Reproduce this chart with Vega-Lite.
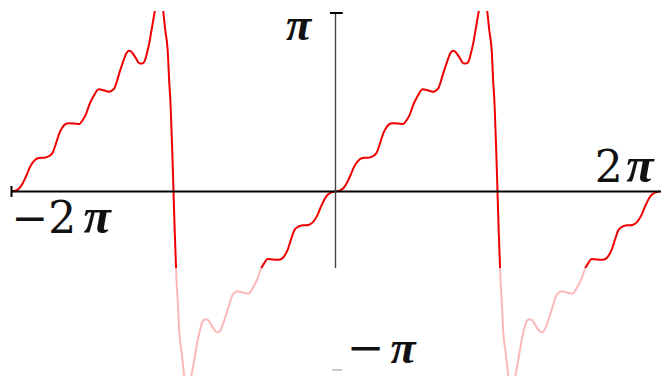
{
  "$schema": "https://vega.github.io/schema/vega-lite/v6.json",
  "width": 661,
  "height": 365,
  "autosize": {"type": "none"},
  "padding": {"top": 11, "left": 0, "right": 0, "bottom": 0},
  "background": "white",
  "config": {"view": {"stroke": null}},
  "datasets": {
    "curve": [
      {"x": -2.000, "y": 0}, {"x": -1.972, "y": 0.006}, {"x": -1.952, "y": 0.018}, {"x": -1.935, "y": 0.039},
      {"x": -1.921, "y": 0.064}, {"x": -1.904, "y": 0.098}, {"x": -1.890, "y": 0.130}, {"x": -1.873, "y": 0.157},
      {"x": -1.859, "y": 0.173}, {"x": -1.838, "y": 0.186}, {"x": -1.818, "y": 0.189}, {"x": -1.797, "y": 0.189},
      {"x": -1.781, "y": 0.193}, {"x": -1.767, "y": 0.199}, {"x": -1.746, "y": 0.217}, {"x": -1.725, "y": 0.270},
      {"x": -1.705, "y": 0.326}, {"x": -1.688, "y": 0.356}, {"x": -1.674, "y": 0.373}, {"x": -1.657, "y": 0.381},
      {"x": -1.643, "y": 0.382}, {"x": -1.614, "y": 0.381}, {"x": -1.581, "y": 0.378}, {"x": -1.560, "y": 0.401},
      {"x": -1.540, "y": 0.434}, {"x": -1.520, "y": 0.485}, {"x": -1.503, "y": 0.518}, {"x": -1.489, "y": 0.541},
      {"x": -1.475, "y": 0.563}, {"x": -1.462, "y": 0.573}, {"x": -1.437, "y": 0.569}, {"x": -1.417, "y": 0.563},
      {"x": -1.396, "y": 0.559}, {"x": -1.380, "y": 0.566}, {"x": -1.365, "y": 0.578}, {"x": -1.349, "y": 0.619},
      {"x": -1.335, "y": 0.662}, {"x": -1.318, "y": 0.709}, {"x": -1.304, "y": 0.746}, {"x": -1.290, "y": 0.776},
      {"x": -1.276, "y": 0.789}, {"x": -1.262, "y": 0.784}, {"x": -1.252, "y": 0.774}, {"x": -1.231, "y": 0.745},
      {"x": -1.211, "y": 0.718}, {"x": -1.194, "y": 0.717}, {"x": -1.180, "y": 0.727}, {"x": -1.170, "y": 0.754},
      {"x": -1.159, "y": 0.793}, {"x": -1.148, "y": 0.838}, {"x": -1.139, "y": 0.886}, {"x": -1.128, "y": 0.944},
      {"x": -1.118, "y": 0.998}, {"x": -1.108, "y": 1.045}, {"x": -1.096, "y": 1.140}, {"x": -1.086, "y": 1.179},
      {"x": -1.077, "y": 1.140}, {"x": -1.063, "y": 1.007}, {"x": -1.051, "y": 0.905}, {"x": -1.036, "y": 0.793},
      {"x": -1.026, "y": 0.608}, {"x": -1.018, "y": 0.485}, {"x": -1.014, "y": 0.384}, {"x": -1.008, "y": 0.233},
      {"x": -1.003, "y": 0.092}, {"x": -1.000, "y": 0},
      {"x": -0.997, "y": -0.092}, {"x": -0.992, "y": -0.233}, {"x": -0.986, "y": -0.384}, {"x": -0.982, "y": -0.485},
      {"x": -0.974, "y": -0.608}, {"x": -0.964, "y": -0.793}, {"x": -0.949, "y": -0.905}, {"x": -0.937, "y": -1.007},
      {"x": -0.923, "y": -1.140}, {"x": -0.914, "y": -1.179}, {"x": -0.904, "y": -1.140}, {"x": -0.892, "y": -1.045},
      {"x": -0.882, "y": -0.998}, {"x": -0.872, "y": -0.944}, {"x": -0.861, "y": -0.886}, {"x": -0.852, "y": -0.838},
      {"x": -0.841, "y": -0.793}, {"x": -0.830, "y": -0.754}, {"x": -0.820, "y": -0.727}, {"x": -0.806, "y": -0.717},
      {"x": -0.789, "y": -0.718}, {"x": -0.769, "y": -0.745}, {"x": -0.748, "y": -0.774}, {"x": -0.738, "y": -0.784},
      {"x": -0.724, "y": -0.789}, {"x": -0.710, "y": -0.776}, {"x": -0.696, "y": -0.746}, {"x": -0.682, "y": -0.709},
      {"x": -0.665, "y": -0.662}, {"x": -0.651, "y": -0.619}, {"x": -0.635, "y": -0.578}, {"x": -0.620, "y": -0.566},
      {"x": -0.604, "y": -0.559}, {"x": -0.583, "y": -0.563}, {"x": -0.563, "y": -0.569}, {"x": -0.538, "y": -0.573},
      {"x": -0.525, "y": -0.563}, {"x": -0.511, "y": -0.541}, {"x": -0.497, "y": -0.518}, {"x": -0.480, "y": -0.485},
      {"x": -0.460, "y": -0.434}, {"x": -0.440, "y": -0.401}, {"x": -0.419, "y": -0.378}, {"x": -0.386, "y": -0.381},
      {"x": -0.357, "y": -0.382}, {"x": -0.343, "y": -0.381}, {"x": -0.326, "y": -0.373}, {"x": -0.312, "y": -0.356},
      {"x": -0.295, "y": -0.326}, {"x": -0.275, "y": -0.270}, {"x": -0.254, "y": -0.217}, {"x": -0.233, "y": -0.199},
      {"x": -0.219, "y": -0.193}, {"x": -0.203, "y": -0.189}, {"x": -0.182, "y": -0.189}, {"x": -0.162, "y": -0.186},
      {"x": -0.141, "y": -0.173}, {"x": -0.127, "y": -0.157}, {"x": -0.110, "y": -0.130}, {"x": -0.096, "y": -0.098},
      {"x": -0.079, "y": -0.064}, {"x": -0.065, "y": -0.039}, {"x": -0.048, "y": -0.018}, {"x": -0.028, "y": -0.006},
      {"x": 0.000, "y": 0}, {"x": 0.028, "y": 0.006}, {"x": 0.048, "y": 0.018}, {"x": 0.065, "y": 0.039},
      {"x": 0.079, "y": 0.064}, {"x": 0.096, "y": 0.098}, {"x": 0.110, "y": 0.130}, {"x": 0.127, "y": 0.157},
      {"x": 0.141, "y": 0.173}, {"x": 0.162, "y": 0.186}, {"x": 0.182, "y": 0.189}, {"x": 0.203, "y": 0.189},
      {"x": 0.219, "y": 0.193}, {"x": 0.233, "y": 0.199}, {"x": 0.254, "y": 0.217}, {"x": 0.275, "y": 0.270},
      {"x": 0.295, "y": 0.326}, {"x": 0.312, "y": 0.356}, {"x": 0.326, "y": 0.373}, {"x": 0.343, "y": 0.381},
      {"x": 0.357, "y": 0.382}, {"x": 0.386, "y": 0.381}, {"x": 0.419, "y": 0.378}, {"x": 0.440, "y": 0.401},
      {"x": 0.460, "y": 0.434}, {"x": 0.480, "y": 0.485}, {"x": 0.497, "y": 0.518}, {"x": 0.511, "y": 0.541},
      {"x": 0.525, "y": 0.563}, {"x": 0.538, "y": 0.573}, {"x": 0.563, "y": 0.569}, {"x": 0.583, "y": 0.563},
      {"x": 0.604, "y": 0.559}, {"x": 0.620, "y": 0.566}, {"x": 0.635, "y": 0.578}, {"x": 0.651, "y": 0.619},
      {"x": 0.665, "y": 0.662}, {"x": 0.682, "y": 0.709}, {"x": 0.696, "y": 0.746}, {"x": 0.710, "y": 0.776},
      {"x": 0.724, "y": 0.789}, {"x": 0.738, "y": 0.784}, {"x": 0.748, "y": 0.774}, {"x": 0.769, "y": 0.745},
      {"x": 0.789, "y": 0.718}, {"x": 0.806, "y": 0.717}, {"x": 0.820, "y": 0.727}, {"x": 0.830, "y": 0.754},
      {"x": 0.841, "y": 0.793}, {"x": 0.852, "y": 0.838}, {"x": 0.861, "y": 0.886}, {"x": 0.872, "y": 0.944},
      {"x": 0.882, "y": 0.998}, {"x": 0.892, "y": 1.045}, {"x": 0.904, "y": 1.140}, {"x": 0.914, "y": 1.179},
      {"x": 0.923, "y": 1.140}, {"x": 0.937, "y": 1.007}, {"x": 0.949, "y": 0.905}, {"x": 0.964, "y": 0.793},
      {"x": 0.974, "y": 0.608}, {"x": 0.982, "y": 0.485}, {"x": 0.986, "y": 0.384}, {"x": 0.992, "y": 0.233},
      {"x": 0.997, "y": 0.092}, {"x": 1.000, "y": 0},
      {"x": 1.003, "y": -0.092}, {"x": 1.008, "y": -0.233}, {"x": 1.014, "y": -0.384}, {"x": 1.018, "y": -0.485},
      {"x": 1.026, "y": -0.608}, {"x": 1.036, "y": -0.793}, {"x": 1.051, "y": -0.905}, {"x": 1.063, "y": -1.007},
      {"x": 1.077, "y": -1.140}, {"x": 1.086, "y": -1.179}, {"x": 1.096, "y": -1.140}, {"x": 1.108, "y": -1.045},
      {"x": 1.118, "y": -0.998}, {"x": 1.128, "y": -0.944}, {"x": 1.139, "y": -0.886}, {"x": 1.148, "y": -0.838},
      {"x": 1.159, "y": -0.793}, {"x": 1.170, "y": -0.754}, {"x": 1.180, "y": -0.727}, {"x": 1.194, "y": -0.717},
      {"x": 1.211, "y": -0.718}, {"x": 1.231, "y": -0.745}, {"x": 1.252, "y": -0.774}, {"x": 1.262, "y": -0.784},
      {"x": 1.276, "y": -0.789}, {"x": 1.290, "y": -0.776}, {"x": 1.304, "y": -0.746}, {"x": 1.318, "y": -0.709},
      {"x": 1.335, "y": -0.662}, {"x": 1.349, "y": -0.619}, {"x": 1.365, "y": -0.578}, {"x": 1.380, "y": -0.566},
      {"x": 1.396, "y": -0.559}, {"x": 1.417, "y": -0.563}, {"x": 1.437, "y": -0.569}, {"x": 1.462, "y": -0.573},
      {"x": 1.475, "y": -0.563}, {"x": 1.489, "y": -0.541}, {"x": 1.503, "y": -0.518}, {"x": 1.520, "y": -0.485},
      {"x": 1.540, "y": -0.434}, {"x": 1.560, "y": -0.401}, {"x": 1.581, "y": -0.378}, {"x": 1.614, "y": -0.381},
      {"x": 1.643, "y": -0.382}, {"x": 1.657, "y": -0.381}, {"x": 1.674, "y": -0.373}, {"x": 1.688, "y": -0.356},
      {"x": 1.705, "y": -0.326}, {"x": 1.725, "y": -0.270}, {"x": 1.746, "y": -0.217}, {"x": 1.767, "y": -0.199},
      {"x": 1.781, "y": -0.193}, {"x": 1.797, "y": -0.189}, {"x": 1.818, "y": -0.189}, {"x": 1.838, "y": -0.186},
      {"x": 1.859, "y": -0.173}, {"x": 1.873, "y": -0.157}, {"x": 1.890, "y": -0.130}, {"x": 1.904, "y": -0.098},
      {"x": 1.921, "y": -0.064}, {"x": 1.935, "y": -0.039}, {"x": 1.952, "y": -0.018}, {"x": 1.972, "y": -0.006},
      {"x": 2.000, "y": 0}
    ]
  },
  "layer": [
    {
      "data": {"name": "curve"},
      "mark": {"type": "line", "color": "#f00000", "strokeWidth": 2, "interpolate": "monotone", "clip": true},
      "encoding": {
        "x": {"field": "x", "type": "quantitative", "scale": {"domain": [-2.071, 2.0093], "nice": false, "zero": false}, "axis": null},
        "y": {"field": "y", "type": "quantitative", "scale": {"domain": [-1.0336, 1.0112], "nice": false, "zero": false}, "axis": null}
      }
    },
    {
      "data": {"values": [{}]},
      "mark": {"type": "rule", "color": "#000000", "strokeWidth": 2, "clip": true},
      "encoding": {"x": {"datum": -2}, "x2": {"datum": 2.05}, "y": {"datum": 0}}
    },
    {
      "data": {"values": [{}]},
      "mark": {"type": "rule", "color": "#000000", "strokeWidth": 2},
      "encoding": {"x": {"datum": -2}, "y": {"datum": -0.031}, "y2": {"datum": 0.031}}
    },
    {
      "data": {"values": [{}]},
      "mark": {"type": "rule", "color": "#444444", "strokeWidth": 1.4},
      "encoding": {"x": {"datum": 0}, "y": {"datum": -0.4286}, "y2": {"datum": 1.0}}
    },
    {
      "data": {"values": [{}]},
      "mark": {"type": "rule", "color": "#000000", "strokeWidth": 2},
      "encoding": {"x": {"datum": -0.034}, "x2": {"datum": 0.045}, "y": {"datum": 1.0}}
    },
    {
      "data": {"values": [{}]},
      "mark": {"type": "rule", "color": "#000000", "strokeWidth": 1.5},
      "encoding": {"x": {"datum": -0.02}, "x2": {"datum": 0.04}, "y": {"datum": -1.0}}
    },
    {
      "data": {"values": [{}]},
      "mark": {"type": "rect", "color": "#ffffff", "opacity": 0.72, "clip": true},
      "encoding": {"x": {"datum": -2.2}, "x2": {"datum": 2.2}, "y": {"datum": -0.4286}, "y2": {"datum": -1.2}}
    },
    {
      "data": {"values": [{}]},
      "mark": {"type": "text", "text": "π", "font": "Liberation Serif", "fontStyle": "italic", "fontWeight": "bold", "fontSize": 46, "align": "left", "baseline": "alphabetic", "color": "#111111"},
      "encoding": {"x": {"datum": -0.306}, "y": {"datum": 0.846}}
    },
    {
      "data": {"values": [{}]},
      "mark": {"type": "text", "text": "2", "font": "DejaVu Serif", "fontSize": 44, "align": "left", "baseline": "alphabetic", "color": "#111111"},
      "encoding": {"x": {"datum": 1.6}, "y": {"datum": 0.056}}
    },
    {
      "data": {"values": [{}]},
      "mark": {"type": "text", "text": "π", "font": "Liberation Serif", "fontStyle": "italic", "fontWeight": "bold", "fontSize": 50, "align": "left", "baseline": "alphabetic", "color": "#111111"},
      "encoding": {"x": {"datum": 1.795}, "y": {"datum": 0.056}}
    },
    {
      "data": {"values": [{}]},
      "mark": {"type": "text", "text": "−2", "font": "DejaVu Serif", "fontSize": 44, "align": "left", "baseline": "alphabetic", "color": "#111111"},
      "encoding": {"x": {"datum": -2.0}, "y": {"datum": -0.2325}}
    },
    {
      "data": {"values": [{}]},
      "mark": {"type": "text", "text": "π", "font": "Liberation Serif", "fontStyle": "italic", "fontWeight": "bold", "fontSize": 50, "align": "left", "baseline": "alphabetic", "color": "#111111"},
      "encoding": {"x": {"datum": -1.555}, "y": {"datum": -0.2325}}
    },
    {
      "data": {"values": [{}]},
      "mark": {"type": "text", "text": "−", "font": "DejaVu Serif", "fontSize": 45, "align": "left", "baseline": "alphabetic", "color": "#111111"},
      "encoding": {"x": {"datum": 0.07}, "y": {"datum": -0.961}}
    },
    {
      "data": {"values": [{}]},
      "mark": {"type": "text", "text": "π", "font": "Liberation Serif", "fontStyle": "italic", "fontWeight": "bold", "fontSize": 46, "align": "left", "baseline": "alphabetic", "color": "#111111"},
      "encoding": {"x": {"datum": 0.34}, "y": {"datum": -0.961}}
    }
  ]
}
